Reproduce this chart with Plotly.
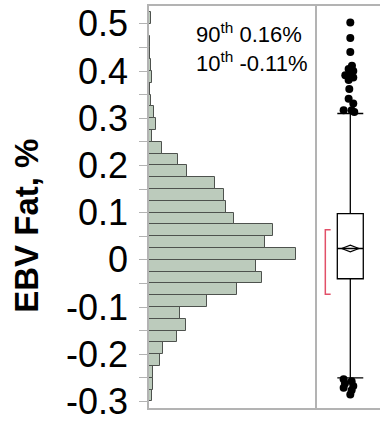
import plotly.graph_objects as go

# Histogram of EBV Fat, % (bin lower edges, width 0.025) and counts
bin_start = [-0.300, -0.275, -0.250, -0.225, -0.200, -0.175, -0.150, -0.125,
             -0.100, -0.075, -0.050, -0.025, 0.000, 0.025, 0.050, 0.075,
             0.100, 0.125, 0.150, 0.175, 0.200, 0.225, 0.250, 0.275,
             0.300, 0.325, 0.350, 0.375, 0.400, 0.425, 0.450, 0.475, 0.500]
counts = [4, 5, 5, 15, 19, 37, 49, 41,
          77, 117, 151, 143, 196, 155, 165, 113,
          102, 100, 88, 51, 39, 17, 4, 9,
          6, 3, 1, 4, 3, 1, 1, 0, 3]
bin_width = 0.025

# Box plot summary
q1 = -0.040
median = 0.024
q3 = 0.098
lower_fence = -0.250
upper_fence = 0.310
mean = 0.024
mean_ci = 0.007
shortest_half = [-0.073, 0.064]

# Outliers (value, horizontal jitter)
out_hi = [0.503, 0.470, 0.440, 0.411, 0.404, 0.400, 0.391, 0.390, 0.386,
          0.381, 0.362, 0.341, 0.331, 0.317, 0.317, 0.313]
out_hi_jit = [0, 0, 0, 0.05, -0.05, 0.09, -0.15, 0, 0.09, -0.05, -0.03,
              -0.05, 0.09, -0.2, 0.04, 0.12]
out_lo = [-0.253, -0.257, -0.262, -0.267, -0.271, -0.276, -0.285]
out_lo_jit = [-0.2, 0.04, -0.16, 0.09, -0.2, 0.04, 0]

tick_vals = [-0.3, -0.2, -0.1, 0.0, 0.1, 0.2, 0.3, 0.4, 0.5]
tick_text = ["-0.3", "-0.2", "-0.1", "0", "0.1", "0.2", "0.3", "0.4", "0.5"]

p90_label = "90<sup>th</sup> 0.16%"
p10_label = "10<sup>th</sup> -0.11%"
y_title = "<b>EBV Fat, %</b>"

FONT = "Liberation Sans, Arial, sans-serif"
FRAME = "#b3b3b3"
W, H = 380, 422
ML, MR, MT, MB = 149, 0, 6, 9
split = (317 - ML) / (W - ML - MR)

centers = [b + bin_width / 2 for b in bin_start]

fig = go.Figure()

fig.add_trace(go.Bar(
    y=centers, x=counts, orientation="h", width=bin_width,
    marker=dict(color="rgb(188,203,188)",
                line=dict(color="rgb(78,82,78)", width=1)),
    xaxis="x", yaxis="y", showlegend=False, hoverinfo="skip",
))

fig.add_trace(go.Box(
    x=[0], q1=[q1], median=[median], q3=[q3],
    lowerfence=[lower_fence], upperfence=[upper_fence],
    width=0.78, whiskerwidth=1, boxpoints=False,
    fillcolor="white", line=dict(color="black", width=1.3),
    xaxis="x2", yaxis="y2", showlegend=False, hoverinfo="skip",
))

# mean diamond
dw = 0.26
fig.add_trace(go.Scatter(
    x=[-dw, 0, dw, 0, -dw],
    y=[mean, mean + mean_ci, mean, mean - mean_ci, mean],
    mode="lines", line=dict(color="black", width=1.2),
    xaxis="x2", yaxis="y2", showlegend=False, hoverinfo="skip",
))

# shortest half bracket
bx0, bx1 = -0.75, -0.59
fig.add_trace(go.Scatter(
    x=[bx1, bx0, bx0, bx1],
    y=[shortest_half[1], shortest_half[1], shortest_half[0], shortest_half[0]],
    mode="lines", line=dict(color="rgb(226,80,104)", width=1.5),
    xaxis="x2", yaxis="y2", showlegend=False, hoverinfo="skip",
))

# outliers
fig.add_trace(go.Scatter(
    x=out_hi_jit + out_lo_jit, y=out_hi + out_lo, mode="markers",
    marker=dict(color="black", size=8),
    xaxis="x2", yaxis="y2", showlegend=False, hoverinfo="skip",
))

yrange = [-0.3138, 0.5377]

fig.update_layout(
    width=W, height=H,
    margin=dict(l=ML, r=MR, t=MT, b=MB, pad=0),
    paper_bgcolor="white", plot_bgcolor="white",
    bargap=0,
    font=dict(family=FONT, color="black"),
    xaxis=dict(domain=[0, split], range=[0, 224], showticklabels=False,
               ticks="", showgrid=False, zeroline=False,
               showline=True, mirror=True, linecolor=FRAME, linewidth=1.5),
    yaxis=dict(range=yrange, tickvals=tick_vals, ticktext=tick_text,
               ticks="outside", ticklen=8, tickcolor=FRAME, tickwidth=1,
               ticklabelstandoff=4, ticklabeloverflow="allow",
               tickfont=dict(family=FONT, size=36, color="black"),
               minor=dict(dtick=0.05, tick0=0, ticks="outside", ticklen=8,
                          tickcolor=FRAME, tickwidth=1, showgrid=False),
               showgrid=False, zeroline=False,
               showline=True, linecolor=FRAME, linewidth=1.5),
    xaxis2=dict(domain=[split, 1], range=[-1, 0.892], showticklabels=False,
                ticks="", showgrid=False, zeroline=False,
                showline=True, mirror=True, linecolor=FRAME, linewidth=1.5,
                anchor="y2"),
    yaxis2=dict(range=yrange, matches="y", anchor="x2",
                showticklabels=False, ticks="", showgrid=False,
                zeroline=False, showline=True, linecolor=FRAME, linewidth=1.5),
)

fig.add_annotation(
    text=p90_label + "<br>" + p10_label, xref="paper", yref="paper",
    x=(194 - ML) / (W - ML - MR), y=(H - MB - 48) / (H - MT - MB),
    xanchor="left", yanchor="middle", align="left", showarrow=False,
    font=dict(family=FONT, size=22, color="black"),
)

fig.add_annotation(
    text=y_title, xref="paper", yref="paper",
    x=(27 - ML) / (W - ML - MR), y=(H - MB - 228.5) / (H - MT - MB),
    xanchor="center", yanchor="middle", textangle=-90, showarrow=False,
    font=dict(family=FONT, size=33, color="black"),
)

fig.write_html("out.html")
